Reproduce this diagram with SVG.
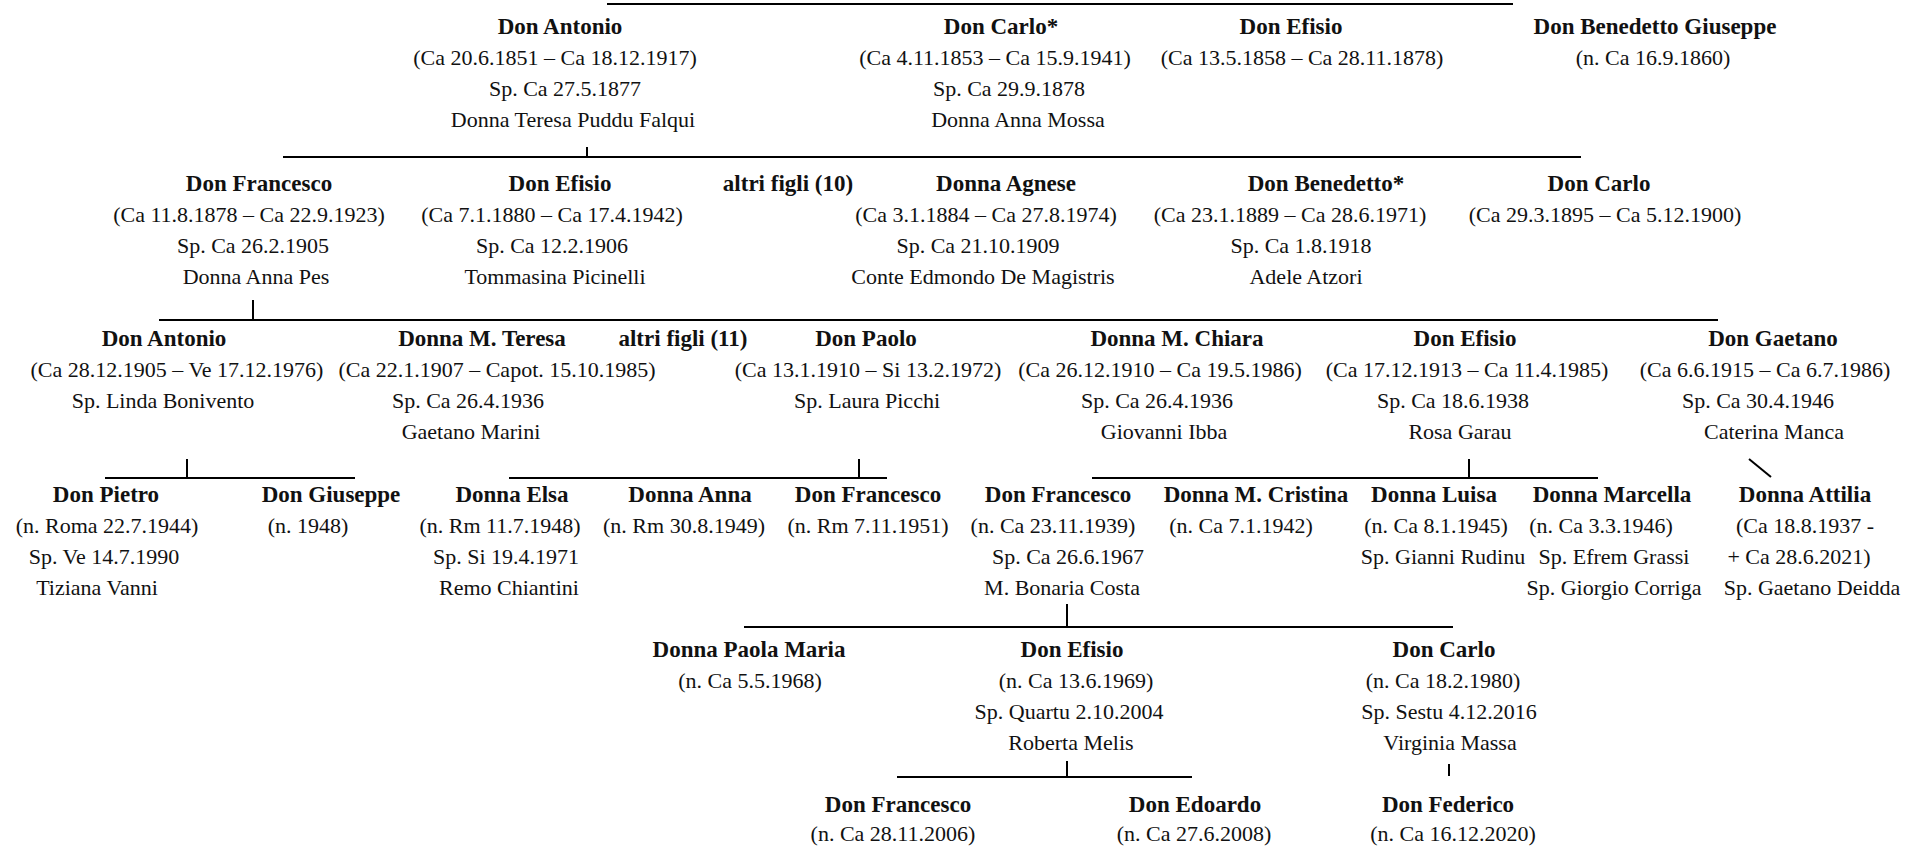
<svg xmlns="http://www.w3.org/2000/svg" width="1928" height="847" viewBox="0 0 1928 847">
<style>
text{font-family:"Liberation Serif","Times New Roman",serif;fill:#111;text-anchor:middle}
.n{font-weight:bold;font-size:23px}
.t{font-size:22px}
.c line{stroke:#000;stroke-width:2}
</style>
<rect width="1928" height="847" fill="#fff"/>
<g class="c" id="connectors">
<line x1="607" y1="4" x2="1513" y2="4"/>
<line x1="587" y1="147" x2="587" y2="157"/>
<line x1="283" y1="157" x2="1581" y2="157"/>
<line x1="253" y1="300" x2="253" y2="320"/>
<line x1="159" y1="320" x2="1718" y2="320"/>
<line x1="187" y1="459" x2="187" y2="478"/>
<line x1="105" y1="478" x2="355" y2="478"/>
<line x1="859" y1="459" x2="859" y2="478"/>
<line x1="509" y1="478" x2="887" y2="478"/>
<line x1="1469" y1="459" x2="1469" y2="478"/>
<line x1="1092" y1="478" x2="1598" y2="478"/>
<line x1="1749" y1="459" x2="1771" y2="477"/>
<line x1="1067" y1="604" x2="1067" y2="627"/>
<line x1="744" y1="627" x2="1453" y2="627"/>
<line x1="1067" y1="761" x2="1067" y2="777"/>
<line x1="897" y1="777" x2="1192" y2="777"/>
<line x1="1449" y1="764" x2="1449" y2="776"/>
</g>
<g id="g1-antonio"><text class="n" x="560" y="34">Don Antonio</text><text class="t" x="555" y="65">(Ca 20.6.1851 – Ca 18.12.1917)</text><text class="t" x="565" y="96">Sp. Ca 27.5.1877</text><text class="t" x="573" y="127">Donna Teresa Puddu Falqui</text></g>
<g id="g1-carlo"><text class="n" x="1001" y="34">Don Carlo*</text><text class="t" x="995" y="65">(Ca 4.11.1853 – Ca 15.9.1941)</text><text class="t" x="1009" y="96">Sp. Ca 29.9.1878</text><text class="t" x="1018" y="127">Donna Anna Mossa</text></g>
<g id="g1-efisio"><text class="n" x="1291" y="34">Don Efisio</text><text class="t" x="1302" y="65">(Ca 13.5.1858 – Ca 28.11.1878)</text></g>
<g id="g1-benedetto"><text class="n" x="1655" y="34">Don Benedetto Giuseppe</text><text class="t" x="1653" y="65">(n. Ca 16.9.1860)</text></g>

<g id="g2-francesco"><text class="n" x="259" y="191">Don Francesco</text><text class="t" x="249" y="222">(Ca 11.8.1878 – Ca 22.9.1923)</text><text class="t" x="253" y="253">Sp. Ca 26.2.1905</text><text class="t" x="256" y="284">Donna Anna Pes</text></g>
<g id="g2-efisio"><text class="n" x="560" y="191">Don Efisio</text><text class="t" x="552" y="222">(Ca 7.1.1880 – Ca 17.4.1942)</text><text class="t" x="552" y="253">Sp. Ca 12.2.1906</text><text class="t" x="555" y="284">Tommasina Picinelli</text></g>
<g id="g2-altri"><text class="n" x="788" y="191">altri figli (10)</text></g>
<g id="g2-agnese"><text class="n" x="1006" y="191">Donna Agnese</text><text class="t" x="986" y="222">(Ca 3.1.1884 – Ca 27.8.1974)</text><text class="t" x="978" y="253">Sp. Ca 21.10.1909</text><text class="t" x="983" y="284">Conte Edmondo De Magistris</text></g>
<g id="g2-benedetto"><text class="n" x="1326" y="191">Don Benedetto*</text><text class="t" x="1290" y="222">(Ca 23.1.1889 – Ca 28.6.1971)</text><text class="t" x="1301" y="253">Sp. Ca 1.8.1918</text><text class="t" x="1306" y="284">Adele Atzori</text></g>
<g id="g2-carlo"><text class="n" x="1599" y="191">Don Carlo</text><text class="t" x="1605" y="222">(Ca 29.3.1895 – Ca 5.12.1900)</text></g>

<g id="g3-antonio"><text class="n" x="164" y="346">Don Antonio</text><text class="t" x="177" y="377">(Ca 28.12.1905 – Ve 17.12.1976)</text><text class="t" x="163" y="408">Sp. Linda Bonivento</text></g>
<g id="g3-teresa"><text class="n" x="482" y="346">Donna M. Teresa</text><text class="t" x="497" y="377">(Ca 22.1.1907 – Capot. 15.10.1985)</text><text class="t" x="468" y="408">Sp. Ca 26.4.1936</text><text class="t" x="471" y="439">Gaetano Marini</text></g>
<g id="g3-altri"><text class="n" x="683" y="346">altri figli (11)</text></g>
<g id="g3-paolo"><text class="n" x="866" y="346">Don Paolo</text><text class="t" x="868" y="377">(Ca 13.1.1910 – Si 13.2.1972)</text><text class="t" x="867" y="408">Sp. Laura Picchi</text></g>
<g id="g3-chiara"><text class="n" x="1177" y="346">Donna M. Chiara</text><text class="t" x="1160" y="377">(Ca 26.12.1910 – Ca 19.5.1986)</text><text class="t" x="1157" y="408">Sp. Ca 26.4.1936</text><text class="t" x="1164" y="439">Giovanni Ibba</text></g>
<g id="g3-efisio"><text class="n" x="1465" y="346">Don Efisio</text><text class="t" x="1467" y="377">(Ca 17.12.1913 – Ca 11.4.1985)</text><text class="t" x="1453" y="408">Sp. Ca 18.6.1938</text><text class="t" x="1460" y="439">Rosa Garau</text></g>
<g id="g3-gaetano"><text class="n" x="1773" y="346">Don Gaetano</text><text class="t" x="1765" y="377">(Ca 6.6.1915 – Ca 6.7.1986)</text><text class="t" x="1758" y="408">Sp. Ca 30.4.1946</text><text class="t" x="1774" y="439">Caterina Manca</text></g>

<g id="g4-pietro"><text class="n" x="106" y="502">Don Pietro</text><text class="t" x="107" y="533">(n. Roma 22.7.1944)</text><text class="t" x="104" y="564">Sp. Ve 14.7.1990</text><text class="t" x="97" y="595">Tiziana Vanni</text></g>
<g id="g4-giuseppe"><text class="n" x="331" y="502">Don Giuseppe</text><text class="t" x="308" y="533">(n. 1948)</text></g>
<g id="g4-elsa"><text class="n" x="512" y="502">Donna Elsa</text><text class="t" x="500" y="533">(n. Rm 11.7.1948)</text><text class="t" x="506" y="564">Sp. Si 19.4.1971</text><text class="t" x="509" y="595">Remo Chiantini</text></g>
<g id="g4-anna"><text class="n" x="690" y="502">Donna Anna</text><text class="t" x="684" y="533">(n. Rm 30.8.1949)</text></g>
<g id="g4-francesco1"><text class="n" x="868" y="502">Don Francesco</text><text class="t" x="868" y="533">(n. Rm 7.11.1951)</text></g>
<g id="g4-francesco2"><text class="n" x="1058" y="502">Don Francesco</text><text class="t" x="1053" y="533">(n. Ca 23.11.1939)</text><text class="t" x="1068" y="564">Sp. Ca 26.6.1967</text><text class="t" x="1062" y="595">M. Bonaria Costa</text></g>
<g id="g4-cristina"><text class="n" x="1256" y="502">Donna M. Cristina</text><text class="t" x="1241" y="533">(n. Ca 7.1.1942)</text></g>
<g id="g4-luisa"><text class="n" x="1434" y="502">Donna Luisa</text><text class="t" x="1436" y="533">(n. Ca 8.1.1945)</text><text class="t" x="1443" y="564">Sp. Gianni Rudinu</text></g>
<g id="g4-marcella"><text class="n" x="1612" y="502">Donna Marcella</text><text class="t" x="1601" y="533">(n. Ca 3.3.1946)</text><text class="t" x="1614" y="564">Sp. Efrem Grassi</text><text class="t" x="1614" y="595">Sp. Giorgio Corriga</text></g>
<g id="g4-attilia"><text class="n" x="1805" y="502">Donna Attilia</text><text class="t" x="1805" y="533">(Ca 18.8.1937 -</text><text class="t" x="1799" y="564">+ Ca 28.6.2021)</text><text class="t" x="1812" y="595">Sp. Gaetano Deidda</text></g>

<g id="g5-paola"><text class="n" x="749" y="657">Donna Paola Maria</text><text class="t" x="750" y="688">(n. Ca 5.5.1968)</text></g>
<g id="g5-efisio"><text class="n" x="1072" y="657">Don Efisio</text><text class="t" x="1076" y="688">(n. Ca 13.6.1969)</text><text class="t" x="1069" y="719">Sp. Quartu 2.10.2004</text><text class="t" x="1071" y="750">Roberta Melis</text></g>
<g id="g5-carlo"><text class="n" x="1444" y="657">Don Carlo</text><text class="t" x="1443" y="688">(n. Ca 18.2.1980)</text><text class="t" x="1449" y="719">Sp. Sestu 4.12.2016</text><text class="t" x="1450" y="750">Virginia Massa</text></g>

<g id="g6-francesco"><text class="n" x="898" y="812">Don Francesco</text><text class="t" x="893" y="841">(n. Ca 28.11.2006)</text></g>
<g id="g6-edoardo"><text class="n" x="1195" y="812">Don Edoardo</text><text class="t" x="1194" y="841">(n. Ca 27.6.2008)</text></g>
<g id="g6-federico"><text class="n" x="1448" y="812">Don Federico</text><text class="t" x="1453" y="841">(n. Ca 16.12.2020)</text></g>
</svg>
